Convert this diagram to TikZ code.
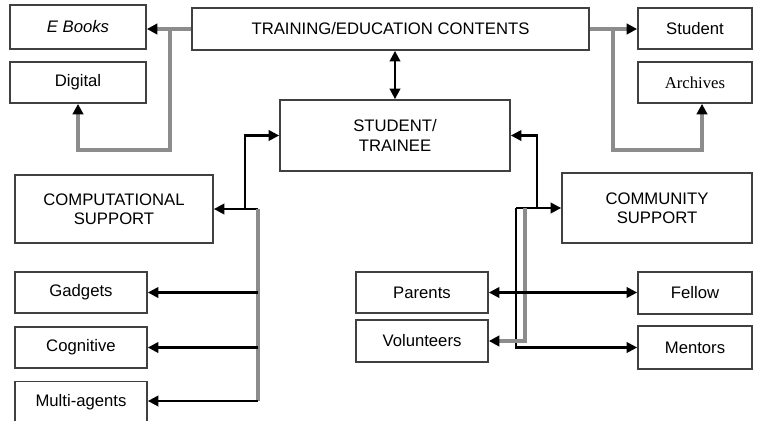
\documentclass[tikz,border=0pt]{standalone}
\usepackage{fontspec}
\setmainfont{Liberation Sans}
\newfontfamily\archfont{Liberation Serif}
\usetikzlibrary{arrows.meta}

\begin{document}
\begin{tikzpicture}[x=0.02cm, y=-0.02cm,
	box/.style={draw=black!75, line width=1pt, rectangle, align=center, inner sep=0pt, font=\fontsize{9.5}{11}\selectfont},
	tip/.tip={Triangle[length=2.1mm,width=2.1mm,color=black]},
	bline/.style={line width=1.3pt, -tip},
	gline/.style={bline, line width=1.8pt, draw=black!45}]
	\useasboundingbox (0,0) rectangle (761,420);
	% top row
	\node[box, minimum width=136*0.02cm, minimum height=44*0.02cm] (ebooks) at (78,27) {\itshape E Books};
	\node[box, minimum width=136*0.02cm, minimum height=41*0.02cm] (digital) at (78,82.5) {Digital};
	\node[box, minimum width=397*0.02cm, minimum height=42*0.02cm] (training) at (390.5,29) {TRAINING/EDUCATION CONTENTS};
	\node[box, minimum width=114*0.02cm, minimum height=41*0.02cm] (student) at (695,28.5) {Student};
	\node[box, minimum width=114*0.02cm, minimum height=41*0.02cm] (archives) at (695,82.5) {\archfont Archives};
	\node[box, minimum width=230*0.02cm, minimum height=71*0.02cm] (trainee) at (395,135.5) {STUDENT/\\TRAINEE};
	% support boxes
	\node[box, minimum width=198*0.02cm, minimum height=68*0.02cm] (computational) at (114,209) {COMPUTATIONAL\\SUPPORT};
	\node[box, minimum width=190*0.02cm, minimum height=70*0.02cm] (community) at (657,208) {COMMUNITY\\SUPPORT};
	\node[box, minimum width=132*0.02cm, minimum height=41*0.02cm] (gadgets) at (81,292.5) {Gadgets};
	\node[box, minimum width=132*0.02cm, minimum height=41*0.02cm] (cognitive) at (81,347.5) {Cognitive};
	\node[box, minimum width=132*0.02cm, minimum height=41*0.02cm] (multi) at (81,402) {Multi-agents};
	\node[box, minimum width=132*0.02cm, minimum height=41*0.02cm] (parents) at (422,292.5) {Parents};
	\node[box, minimum width=132*0.02cm, minimum height=42*0.02cm] (volunteers) at (422,341) {Volunteers};
	\node[box, minimum width=114*0.02cm, minimum height=42*0.02cm] (fellow) at (695,293) {Fellow};
	\node[box, minimum width=114*0.02cm, minimum height=43*0.02cm] (mentors) at (695,347.5) {Mentors};
	% junctions
	\coordinate (jl) at (170,29);
	\coordinate (dl) at (170,150);
	\coordinate (jr) at (613,29);
	\coordinate (dr) at (702,150);
	\coordinate (lj) at (245,209);
	\coordinate (lb) at (258,209);
	\coordinate (lm) at (258,401);
	\coordinate (rj) at (537,208);
	\coordinate (ra) at (516,208);
	\coordinate (rb) at (525,208);
	% contents
	\draw[gline] (training.west) -- (ebooks.east |- training.west);
	\draw[gline] (jl) -- (dl) -| (digital.south);
	\draw[gline] (training.east) -- (student.west |- training.east);
	\draw[gline] (jr) |- (dr) -- (dr |- archives.south);
	\draw[bline, tip-tip] (trainee.north |- training.south) -- (trainee.north);
	% computational side
	\draw[bline] (lb) -- (computational.east |- lb);
	\draw[bline] (lj) |- (trainee.west);
	\draw[gline, -] (lb) -- (lm);
	\draw[bline] (lb |- gadgets.east) -- (gadgets.east);
	\draw[bline] (lb |- cognitive.east) -- (cognitive.east);
	\draw[bline] (lm) -- (multi.east |- lm);
	% community side
	\draw[bline] (rj) |- (trainee.east);
	\draw[bline] (ra) -- (community.west |- ra);
	\draw[bline] (ra) |- (mentors.west);
	\draw[gline] (rb) |- (volunteers.east);
	\draw[bline, tip-tip] (parents.east) -- (fellow.west |- parents.east);
\end{tikzpicture}
\end{document}
